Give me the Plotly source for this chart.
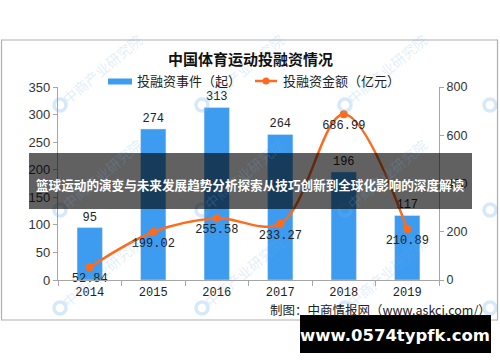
import plotly.graph_objects as go

years = ["2014", "2015", "2016", "2017", "2018", "2019"]
events = [95, 274, 313, 264, 196, 117]
amounts = [52.84, 199.02, 255.58, 233.27, 686.99, 210.89]

title_text = "中国体育运动投融资情况"
legend_bar = "投融资事件（起）"
legend_line = "投融资金额（亿元）"
source_text = "制图：中商情报网（www.askci.com/）"
overlay_text = "篮球运动的演变与未来发展趋势分析探索从技巧创新到全球化影响的深度解读"
banner_text = "www.0574typfk.com"
watermark = "中商产业研究院"

W, H = 500, 362
ML, MR, MT, MB = 58, 61, 87, 82
PW, PH = W - ML - MR, H - MT - MB

def px(x):
    return (x - ML) / PW

def py(y):
    return (H - MB - y) / PH

BLUE = "#3d9cf0"
ORANGE = "#ff6a1c"
AX = "#a6a6a6"
MONO = "Liberation Mono"
CJK = "Noto Sans CJK SC"

fig = go.Figure()
fig.add_trace(go.Bar(
    x=years, y=events, marker_color=BLUE, text=[str(v) for v in events],
    textposition="outside", textfont=dict(family=MONO, size=12, color="#222"),
    cliponaxis=False, showlegend=False, yaxis="y"))
fig.add_trace(go.Scatter(
    x=years, y=amounts, mode="lines+markers+text", yaxis="y2",
    line=dict(color=ORANGE, width=2.5, shape="spline", smoothing=1.0),
    marker=dict(color=ORANGE, size=8),
    text=[f"{v:.2f}" for v in amounts], textposition="bottom center",
    textfont=dict(family=MONO, size=12, color="#222"),
    cliponaxis=False, showlegend=False))

shapes = []
ann = []

def note(x, y, text, font, xa="center", ya="middle", angle=0):
    ann.append(dict(x=px(x), y=py(y), xref="paper", yref="paper", text=text,
                    showarrow=False, xanchor=xa, yanchor=ya, textangle=angle, font=font))

# watermarks
for gx in [60, 202, 345]:
    for gy in [105, 210, 308]:
        note(gx + 42, gy - 36, watermark,
             dict(family=CJK, size=14, color="rgba(110,175,230,0.22)"), angle=-40)
for gx in [60, 202, 345, 490]:
    for gy in [105, 210, 308]:
        shapes.append(dict(type="circle", xref="paper", yref="paper",
                           x0=px(gx - 6), x1=px(gx + 6), y0=py(gy + 6), y1=py(gy - 6),
                           line=dict(color="rgba(110,175,230,0.28)", width=3.5)))

# outer frame
shapes.append(dict(type="rect", xref="paper", yref="paper",
                   x0=px(1.5), x1=px(497.5), y0=py(40), y1=py(320),
                   line=dict(color="#b0b0b0", width=1.2), layer="below"))

# title
note(251, 59, "<b>" + title_text + "</b>", dict(family=CJK, size=15, color="#111"))
# legend
shapes.append(dict(type="rect", xref="paper", yref="paper", x0=px(108), x1=px(132),
                   y0=py(84.5), y1=py(78.5), fillcolor=BLUE, line=dict(width=0)))
note(135, 81, legend_bar, dict(family=CJK, size=13, color="#222"), xa="left")
shapes.append(dict(type="line", xref="paper", yref="paper", x0=px(255), x1=px(277),
                   y0=py(81), y1=py(81), line=dict(color=ORANGE, width=2.5)))
shapes.append(dict(type="circle", xref="paper", yref="paper", x0=px(262.5), x1=px(269.5),
                   y0=py(84.5), y1=py(77.5), fillcolor=ORANGE, line=dict(width=0)))
note(281, 81, legend_line, dict(family=CJK, size=13, color="#222"), xa="left")
# source
note(380, 309, source_text, dict(family=CJK, size=12.5, color="#222"))

# overlay band
shapes.append(dict(type="rect", xref="paper", yref="paper", x0=px(29), x1=px(472),
                   y0=py(209), y1=py(153), fillcolor="rgba(0,0,0,0.62)", line=dict(width=0),
                   layer="above"))
note(250.5, 184, "<b>" + overlay_text + "</b>", dict(family=CJK, size=12.6, color="white"))
# bottom banner
shapes.append(dict(type="rect", xref="paper", yref="paper", x0=px(300), x1=px(491),
                   y0=py(353), y1=py(315), fillcolor="black", line=dict(width=0), layer="above"))
note(395, 335, "<b>" + banner_text + "</b>", dict(family="DejaVu Sans", size=16.5, color="white"))

fig.update_layout(
    width=W, height=H, margin=dict(l=ML, r=MR, t=MT, b=MB),
    paper_bgcolor="white", plot_bgcolor="white",
    bargap=0.6, shapes=shapes, annotations=ann,
    xaxis=dict(type="category", showline=True, linecolor=AX, linewidth=1.2,
               ticks="outside", tickson="boundaries", ticklen=5, tickcolor=AX,
               tickfont=dict(family=MONO, size=12, color="#222"), showgrid=False),
    yaxis=dict(range=[0, 350], dtick=50, showline=True, linecolor=AX, linewidth=1.2,
               ticks="outside", ticklen=4, tickcolor=AX, showgrid=False, zeroline=False,
               tickfont=dict(family="Liberation Sans", size=13, color="#333")),
    yaxis2=dict(range=[0, 800], dtick=200, overlaying="y", side="right", showline=True,
                linecolor=AX, linewidth=1.2, ticks="outside", ticklen=4, tickcolor=AX,
                showgrid=False, zeroline=False,
                tickfont=dict(family="Liberation Sans", size=12.5, color="#333")),
)

fig.write_html("out.html", config={"displayModeBar": False},
               post_script="document.body.style.margin='0px';document.body.style.padding='0px';")
